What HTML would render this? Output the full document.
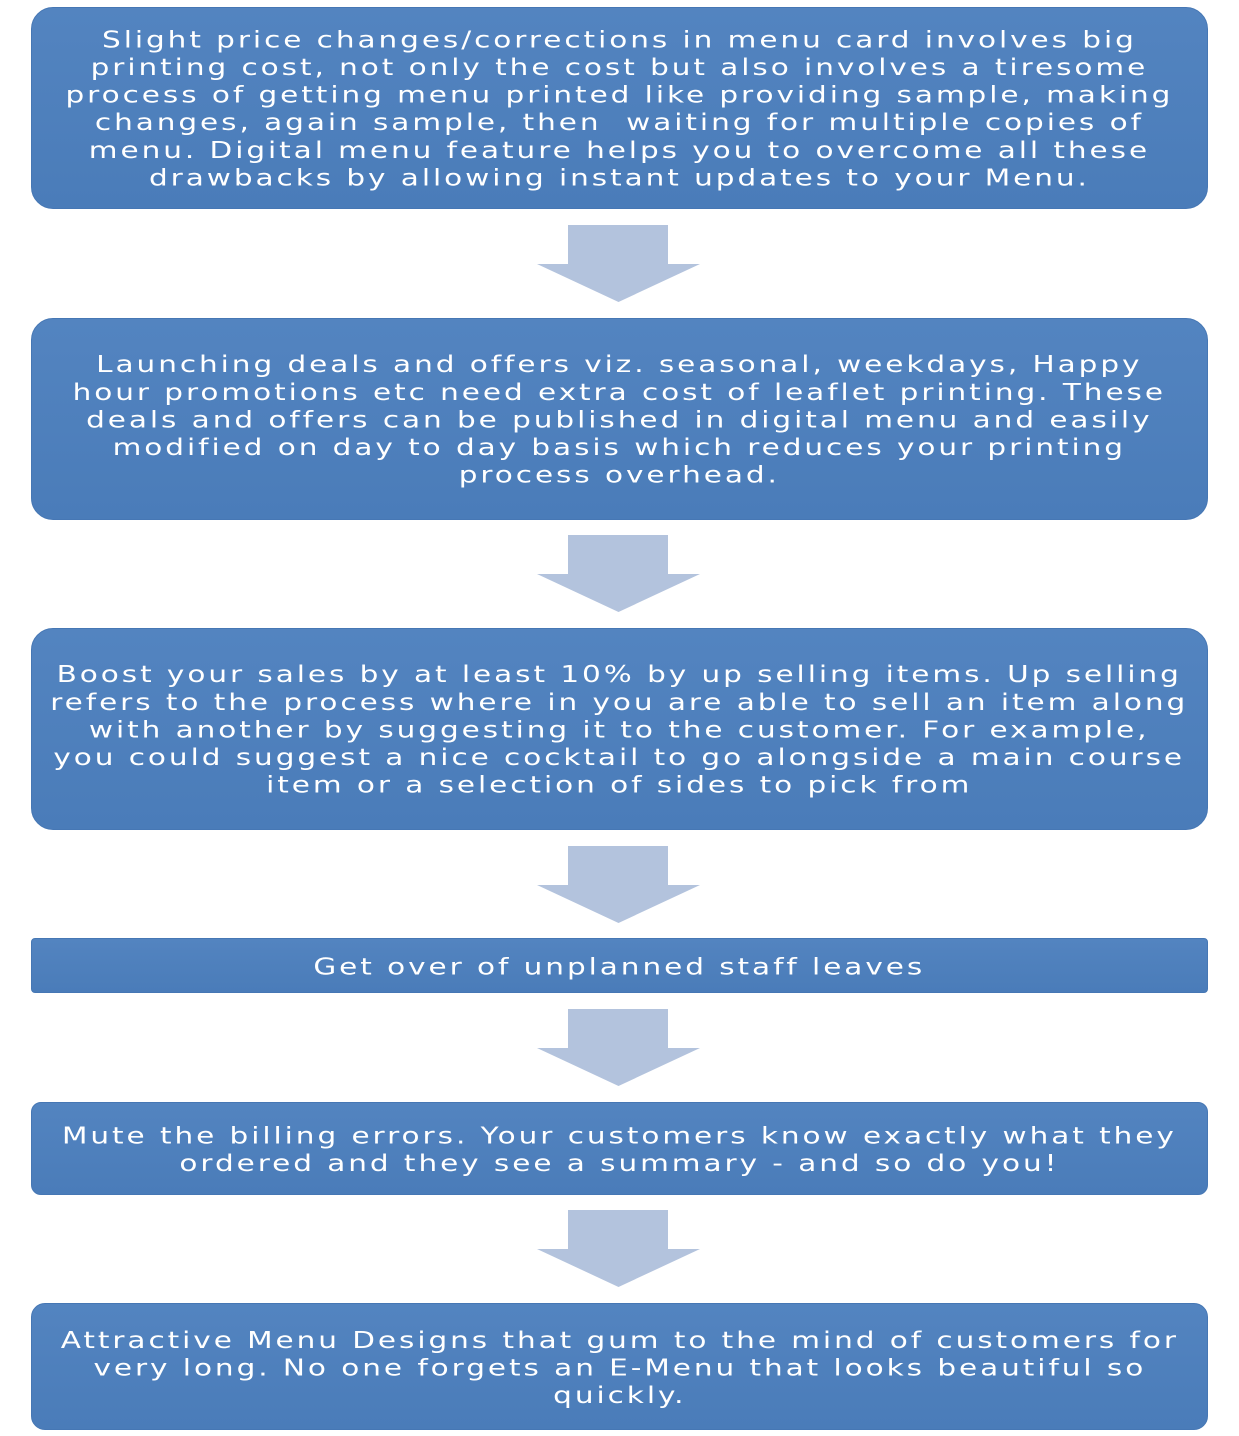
<!DOCTYPE html>
<html><head><meta charset="utf-8"><style>
html,body{margin:0;padding:0;background:#fff;}
body{width:1239px;height:1436px;position:relative;overflow:hidden;font-family:"DejaVu Sans","Liberation Sans",sans-serif;}
.b{position:absolute;left:31px;width:1177px;background:linear-gradient(#5384c0,#4a7cb9);border:1px solid #4677b4;box-sizing:border-box;border-radius:22px;display:flex;align-items:center;justify-content:center;text-align:center;color:#fff;font-size:25px;letter-spacing:2.5px;line-height:30px;white-space:nowrap;}
.b span{display:inline-block;transform:translateY(1px) scale(1.18,0.92);}
.s{border-radius:4px;}
svg.a{position:absolute;left:537px;width:163px;height:77px;}
</style></head><body>
<div class="b" style="top:7px;height:202px"><span>Slight price changes/corrections in menu card involves big<br>printing cost, not only the cost but also involves a tiresome<br>process of getting menu printed like providing sample, making<br>changes, again sample, then&nbsp; waiting for multiple copies of<br>menu. Digital menu feature helps you to overcome all these<br>drawbacks by allowing instant updates to your Menu.</span></div>
<svg class="a" style="top:225px" viewBox="0 0 163 77"><polygon points="31,0 131,0 131,39 163,39 81.5,77 0,39 31,39" fill="#b3c3dd"/></svg>
<div class="b" style="top:318px;height:202px"><span>Launching deals and offers viz. seasonal, weekdays, Happy<br>hour promotions etc need extra cost of leaflet printing. These<br>deals and offers can be published in digital menu and easily<br>modified on day to day basis which reduces your printing<br>process overhead.</span></div>
<svg class="a" style="top:535px" viewBox="0 0 163 77"><polygon points="31,0 131,0 131,39 163,39 81.5,77 0,39 31,39" fill="#b3c3dd"/></svg>
<div class="b" style="top:628px;height:202px"><span>Boost your sales by at least 10% by up selling items. Up selling<br>refers to the process where in you are able to sell an item along<br>with another by suggesting it to the customer. For example,<br>you could suggest a nice cocktail to go alongside a main course<br>item or a selection of sides to pick from</span></div>
<svg class="a" style="top:846px" viewBox="0 0 163 77"><polygon points="31,0 131,0 131,39 163,39 81.5,77 0,39 31,39" fill="#b3c3dd"/></svg>
<div class="b s" style="top:938px;height:55px"><span>Get over of unplanned staff leaves</span></div>
<svg class="a" style="top:1009px" viewBox="0 0 163 77"><polygon points="31,0 131,0 131,39 163,39 81.5,77 0,39 31,39" fill="#b3c3dd"/></svg>
<div class="b" style="top:1102px;height:93px;border-radius:10px"><span>Mute the billing errors. Your customers know exactly what they<br>ordered and they see a summary - and so do you!</span></div>
<svg class="a" style="top:1210px" viewBox="0 0 163 77"><polygon points="31,0 131,0 131,39 163,39 81.5,77 0,39 31,39" fill="#b3c3dd"/></svg>
<div class="b" style="top:1303px;height:127px;border-radius:14px"><span>Attractive Menu Designs that gum to the mind of customers for<br>very long. No one forgets an E-Menu that looks beautiful so<br>quickly.</span></div>
</body></html>
